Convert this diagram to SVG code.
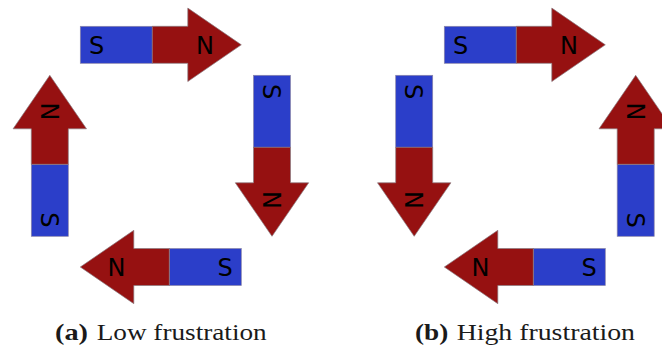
<svg xmlns="http://www.w3.org/2000/svg" xmlns:xlink="http://www.w3.org/1999/xlink" width="662" height="349" viewBox="0 0 662 349">
  <style>
    .south { fill: #2b3ec9; stroke: #8a86a8; stroke-width: 0.7; }
    .north { fill: #961111; stroke: #8a7a80; stroke-width: 0.7; }
    .pole { font-family: "DejaVu Sans", sans-serif; font-size: 24px; fill: #000; text-anchor: middle; }
    .cap { font-family: "Liberation Serif", serif; font-size: 24px; fill: #1a1a1a; }
    .cap-tag { font-weight: bold; }
  </style>
  <defs>
    <!-- bar magnet pointing along +x, origin at the south end, centred on y=0 -->
    <g id="magnet">
      <rect class="south" x="0" y="-18.5" width="72" height="37"/>
      <path class="north" d="M72,-18.5 H107.5 V-36.7 L161,0 L107.5,36.7 V18.5 H72 Z"/>
    </g>
  </defs>

  <!-- (a) low frustration: closed loop of four magnets -->
  <g id="a-top">
    <use xlink:href="#magnet" transform="translate(80.3,44.8)"/>
    <text class="pole" x="96.6" y="53.6">S</text>
    <text class="pole" x="205" y="53.6">N</text>
  </g>
  <g id="a-right">
    <use xlink:href="#magnet" transform="translate(272,75.3) rotate(90)"/>
    <text class="pole" x="272" y="100.4" transform="rotate(90 272 91.6)">S</text>
    <text class="pole" x="272" y="208.8" transform="rotate(90 272 200)">N</text>
  </g>
  <g id="a-bottom">
    <use xlink:href="#magnet" transform="translate(241.3,267) rotate(180)"/>
    <text class="pole" x="225" y="275.8">S</text>
    <text class="pole" x="116.6" y="275.8">N</text>
  </g>
  <g id="a-left">
    <use xlink:href="#magnet" transform="translate(49.8,236.3) rotate(-90)"/>
    <text class="pole" x="49.8" y="120.4" transform="rotate(90 49.8 111.6)">N</text>
    <text class="pole" x="49.8" y="228.8" transform="rotate(90 49.8 220)">S</text>
  </g>

  <!-- (b) high frustration: side magnets reversed -->
  <g id="b-top">
    <use xlink:href="#magnet" transform="translate(444.3,44.8)"/>
    <text class="pole" x="460.6" y="53.6">S</text>
    <text class="pole" x="569" y="53.6">N</text>
  </g>
  <g id="b-left">
    <use xlink:href="#magnet" transform="translate(414.2,75.3) rotate(90)"/>
    <text class="pole" x="414.2" y="100.4" transform="rotate(90 414.2 91.6)">S</text>
    <text class="pole" x="414.2" y="208.8" transform="rotate(90 414.2 200)">N</text>
  </g>
  <g id="b-bottom">
    <use xlink:href="#magnet" transform="translate(605.3,267) rotate(180)"/>
    <text class="pole" x="589" y="275.8">S</text>
    <text class="pole" x="480.6" y="275.8">N</text>
  </g>
  <g id="b-right">
    <use xlink:href="#magnet" transform="translate(635.7,236.3) rotate(-90)"/>
    <text class="pole" x="635.7" y="120.4" transform="rotate(90 635.7 111.6)">N</text>
    <text class="pole" x="635.7" y="228.8" transform="rotate(90 635.7 220)">S</text>
  </g>

  <!-- connectors: none in this figure -->
  <g id="connectors"/>

  <!-- captions -->
  <g id="captions">
    <text class="cap cap-tag" x="55" y="340" textLength="33" lengthAdjust="spacingAndGlyphs">(a)</text>
    <text class="cap" x="96.7" y="340" textLength="170" lengthAdjust="spacingAndGlyphs">Low frustration</text>
    <text class="cap cap-tag" x="415" y="340" textLength="33.3" lengthAdjust="spacingAndGlyphs">(b)</text>
    <text class="cap" x="456.7" y="340" textLength="178.3" lengthAdjust="spacingAndGlyphs">High frustration</text>
  </g>
</svg>
